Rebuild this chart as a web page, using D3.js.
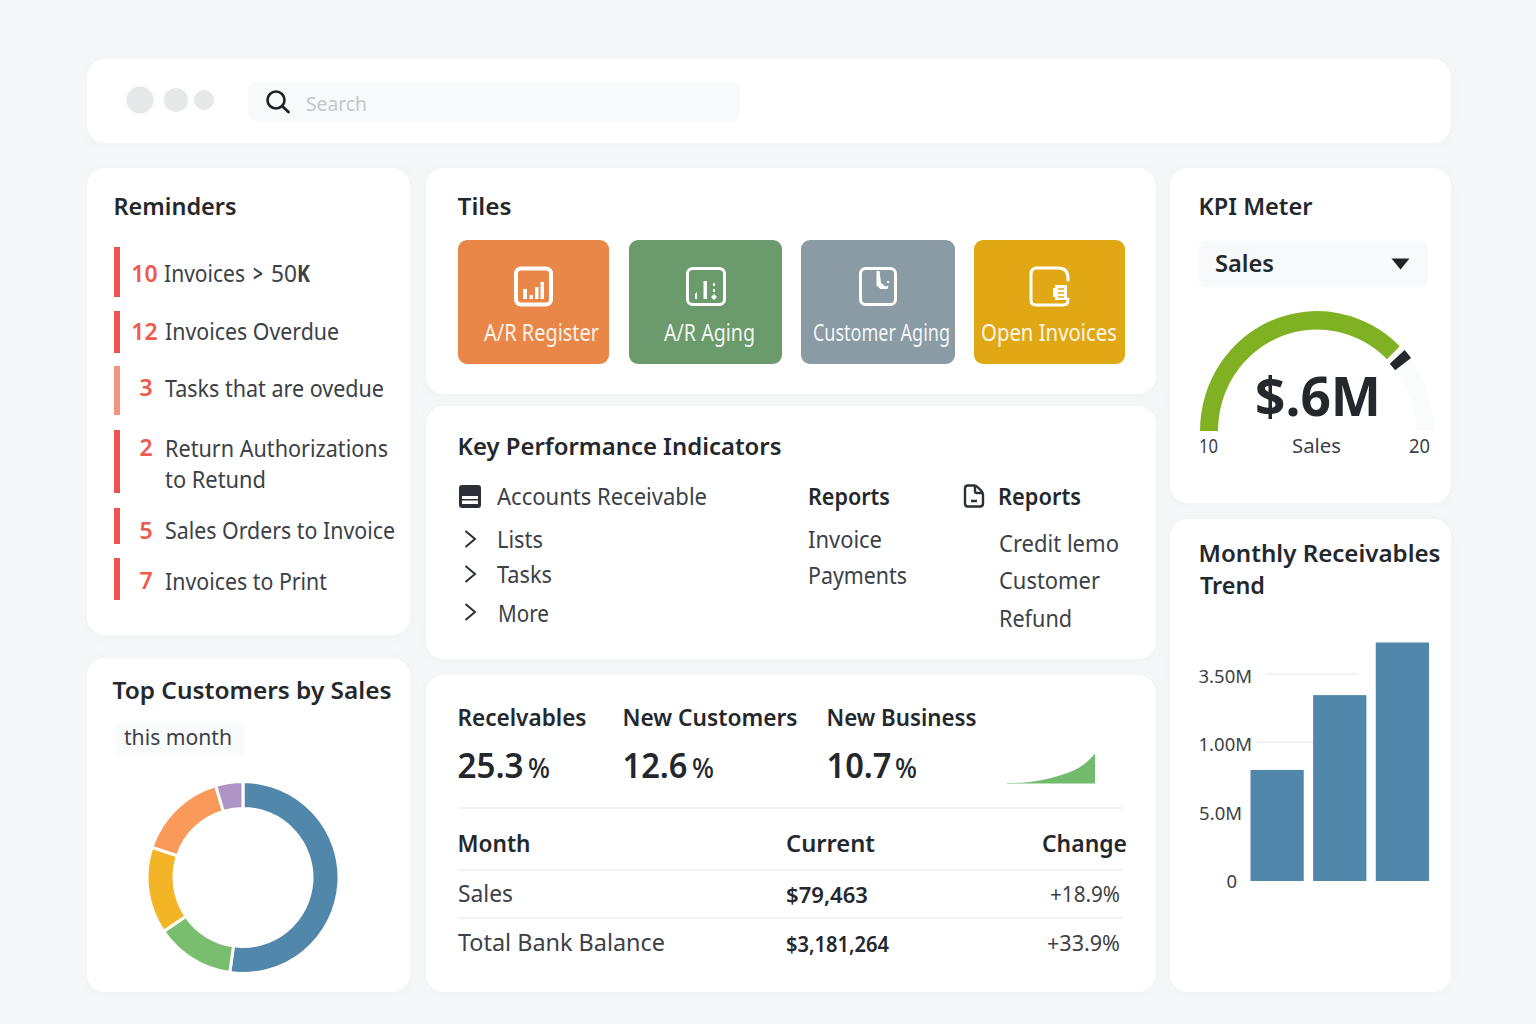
<!DOCTYPE html>
<html>
<head>
<meta charset="utf-8">
<script src="https://cdn.jsdelivr.net/npm/d3@7"></script>
<style>
    html, body { margin: 0; padding: 0; background: #f6f7f9; }
    svg { display: block; }
    text { font-family: "Noto Sans", "Open Sans", sans-serif; }
</style>
</head>
<body>
<div id="chart"></div>
<script>
"use strict";

// chart values
var reminderCounts = ["10", "12", "3", "2", "5", "7"];
var reminderLabels = ["Invoices", "Invoices Overdue", "Tasks that are ovedue", "Return Authorizations", "Sales Orders to Invoice", "Invoices to Print"];
var tileLabels = ["A/R Register", "A/R Aging", "Customer Aging", "Open Invoices"];
var kpiLinks = ["Lists", "Tasks", "More"];
var reportLinks = ["Invoice", "Payments"];
var reportLinks2 = ["Credit lemo", "Customer", "Refund"];
var statNames = ["Recelvables", "New Customers", "New Business"];
var statValues = [25.3, 12.6, 10.7];
var sparkValues = [0.5, 0.6, 1, 2, 3.5, 5.5, 8, 11, 15, 21, 30];
var tableRows = ["Sales", "Total Bank Balance"];
var tableCurrent = ["$79,463", "$3,181,264"];
var tableChange = ["+18.9%", "+33.9%"];
var donutNames = ["Customer A", "Customer B", "Customer C", "Customer D", "Customer E"];
var donutValues = [52.2, 13.3, 14.6, 15.3, 4.6];
var gaugeRange = [10, 20];
var gaugeValue = 17.5;
var gaugeMark = 17.8;
var barMonths = ["Month 1", "Month 2", "Month 3"];
var barValues = [1.625, 2.72, 3.49];
var barTicks = [0, 1, 2, 3];
var barTickLabels = ["0", "5.0M", "1.00M", "3.50M"];

// layout
var INK = "#24282d";
var TEXT = "#3c4146";
var panels = [
    [87, 59, 1364, 84], [87, 168, 323, 467], [87, 658, 323, 334],
    [426, 168, 730, 226], [426, 406, 730, 253], [426, 675, 730, 317],
    [1170, 168, 281, 335], [1170, 519, 281, 473]
];
var tileBoxes = [[458, 151], [629, 153], [801, 154], [974, 151]];
var tileColors = ["#e88747", "#6b9a6c", "#8a9ba5", "#e0a815"];

var svg = d3.select("#chart").append("svg")
    .attr("width", 1536)
    .attr("height", 1024);

var defs = svg.append("defs");
defs.append("filter").attr("id", "soft")
    .attr("x", "-5%").attr("y", "-5%").attr("width", "110%").attr("height", "110%")
    .append("feDropShadow")
    .attr("dx", 0).attr("dy", 1).attr("stdDeviation", 4)
    .attr("flood-color", "#8a94a0").attr("flood-opacity", 0.06);

svg.append("rect").attr("width", 1536).attr("height", 1024).attr("fill", "#f6f7f9");

svg.selectAll("rect.panel")
    .data(panels)
    .enter()
    .append("rect")
    .attr("class", "panel")
    .attr("x", function(d) { return d[0]; })
    .attr("y", function(d) { return d[1]; })
    .attr("width", function(d) { return d[2]; })
    .attr("height", function(d) { return d[3]; })
    .attr("rx", 18)
    .attr("fill", "#fff")
    .attr("filter", "url(#soft)");

// width is the span measured in the picture, so the text lands where it should
function label(str, x, y, size, width, o) {
    o = o || {};
    var t = svg.append("text")
        .attr("x", x)
        .attr("y", y)
        .attr("font-size", size)
        .attr("font-weight", o.weight || 400)
        .attr("fill", o.fill || TEXT)
        .attr("text-anchor", o.anchor || "start")
        .text(str);
    if (width) {
        t.attr("textLength", width).attr("lengthAdjust", "spacingAndGlyphs");
    }
    return t;
}

function title(str, x, y, width) {
    return label(str, x, y, 24, width, { weight: 600, fill: INK });
}

// top bar
[[140, 13.5], [176, 12], [204, 10]].forEach(function(d) {
    svg.append("circle").attr("cx", d[0]).attr("cy", 100).attr("r", d[1]).attr("fill", "#e6e8ea");
});
svg.append("rect").attr("x", 248).attr("y", 82).attr("width", 492).attr("height", 39).attr("rx", 8).attr("fill", "#f8f9fb");
svg.append("circle").attr("cx", 276).attr("cy", 100).attr("r", 8.5)
    .attr("fill", "none").attr("stroke", "#1f2327").attr("stroke-width", 2.6);
svg.append("line").attr("x1", 282).attr("y1", 106).attr("x2", 288.5).attr("y2", 112)
    .attr("stroke", "#1f2327").attr("stroke-width", 2.8).attr("stroke-linecap", "round");
label("Search", 306, 111, 20, 61, { fill: "#c3c7cb" });

// reminders
title("Reminders", 113.5, 215, 123);
var reminderBars = [[247, 50], [311, 42], [366, 49], [430, 63], [508, 36], [558, 42]];
var reminderCountY = [282, 340, 396, 456, 539, 589];
var reminderTextY = [282, 340, 397, 457, 539, 590];
var reminderWidths = [81, 174, 219, 223, 230, 162];
reminderLabels.forEach(function(d, i) {
    svg.append("rect")
        .attr("x", 114).attr("y", reminderBars[i][0])
        .attr("width", 6).attr("height", reminderBars[i][1])
        .attr("fill", i === 2 ? "#f4937f" : "#ef5350");
    label(reminderCounts[i], reminderCounts[i].length > 1 ? 144.5 : 146, reminderCountY[i], 23, null, { weight: 600, fill: "#ee5a4e", anchor: "middle" });
    label(d, i === 0 ? 164 : 165, reminderTextY[i], 23, reminderWidths[i]);
});
label(">", 253, 282, 23, 10, { weight: 600 });
label("50", 271, 282, 23, 26);
label("K", 297, 282, 23, 13, { weight: 700 });
label("to Retund", 165, 488, 23, 101);

// top customers donut
title("Top Customers by Sales", 112.5, 699, 279);
svg.append("rect").attr("x", 116).attr("y", 722).attr("width", 129).attr("height", 34).attr("rx", 4).attr("fill", "#f9fafb");
label("this month", 124, 745, 22, 108);

var donutColors = d3.scaleOrdinal()
    .domain(donutNames)
    .range(["#5187ab", "#78be6e", "#f3b426", "#f9995a", "#ae94c4"]);
var pie = d3.pie().sort(null).value(function(d, i) { return d; });
var donutArc = d3.arc().innerRadius(69).outerRadius(96);
svg.append("g")
    .attr("transform", "translate(243,877.5)")
    .selectAll("path")
    .data(pie(donutValues))
    .enter()
    .append("path")
    .attr("d", donutArc)
    .attr("fill", function(d, i) { return donutColors(donutNames[i]); })
    .attr("stroke", "#fff")
    .attr("stroke-width", 3);

// tiles
title("Tiles", 457.5, 215, 54);
var tileLabelSpan = [[484, 115], [664, 91], [813, 137], [981, 136]];
tileBoxes.forEach(function(d, i) {
    svg.append("rect").attr("x", d[0]).attr("y", 240).attr("width", d[1]).attr("height", 124).attr("rx", 9).attr("fill", tileColors[i]);
    label(tileLabels[i], tileLabelSpan[i][0], 341, 23, tileLabelSpan[i][1], { fill: "#fff" }).attr("fill-opacity", 0.93);
});

function tileIcon(x, w, weight) {
    svg.append("rect").attr("x", x).attr("y", 268.5).attr("width", w).attr("height", 36)
        .attr("rx", 5).attr("fill", "none").attr("stroke", "#fff").attr("stroke-width", weight);
}
function white(pathData) {
    svg.append("path").attr("d", pathData).attr("fill", "#fff");
}
tileIcon(516, 35, 4);
white("M523 289h4v10h-4zM529.5 295h3.5v4h-3.5zM535 287h3.5v12h-3.5zM540.5 282h3.5v17h-3.5z");
tileIcon(687.5, 37, 3);
white("M703.5 281h3.5v18h-3.5zM695 294l2 -2v7h-2zM713 283h2v3h-2zM713 289h2v3h-2zM714 294l3 3l-3 3l-3 -3z");
tileIcon(860.5, 35, 3);
white("M876.5 271h3l1.5 12l4.5 3.5l3 -1l-1 3.5h-7l-4 -3.500zM887 281h2v2h-2z");
svg.append("path")
    .attr("d", "M1037 268h21q10 0 10 10v2M1031 274v26q0 5 5 5h27q5 0 5 -5v-1M1031 274q0 -6 6 -6")
    .attr("fill", "none").attr("stroke", "#fff").attr("stroke-width", 3).attr("stroke-linecap", "round");
white("M1055 285h12v15h-12zM1053 288h2v9h-2z");
svg.append("path").attr("d", "M1058 289h6M1058 293h6M1058 297h6").attr("stroke", tileColors[3]).attr("stroke-width", 1.6);

// key performance indicators
title("Key Performance Indicators", 457.5, 455, 324);
label("Accounts Receivable", 497, 505, 23, 210);
label("Reports", 808, 505, 23, 82, { weight: 600, fill: INK });
label("Reports", 998, 505, 23, 83, { weight: 600, fill: INK });
svg.append("rect").attr("x", 459).attr("y", 485).attr("width", 22).attr("height", 23).attr("rx", 3).attr("fill", "#2b3036");
svg.append("rect").attr("x", 462).attr("y", 496).attr("width", 16).attr("height", 8).attr("fill", "#fff");
svg.append("rect").attr("x", 462).attr("y", 499).attr("width", 16).attr("height", 1.5).attr("fill", "#2b3036");
svg.append("path")
    .attr("d", "M968 485.500h6q2 0 3.500 1.500l4 4q1.500 1.500 1.500 3.500v9q0 3 -3 3h-12q-3 0 -3 -3v-15q0 -3 3 -3zM975 486v5q0 2 2 2h5.500M971 501h6")
    .attr("fill", "none").attr("stroke", "#2b3036").attr("stroke-width", 2.4).attr("stroke-linejoin", "round");

var kpiLinkX = [497, 497, 498];
var kpiLinkY = [548, 583, 622];
var kpiLinkW = [46, 55, 51];
var chevronY = [539, 574, 612];
kpiLinks.forEach(function(d, i) {
    label(d, kpiLinkX[i], kpiLinkY[i], 23, kpiLinkW[i]);
    svg.append("path")
        .attr("d", "M465.5 " + (chevronY[i] - 8) + "l9.5 8l-9.5 8")
        .attr("fill", "none").attr("stroke", "#2b3036").attr("stroke-width", 2);
});
var reportY = [548, 584];
var reportW = [74, 99];
reportLinks.forEach(function(d, i) { label(d, 808, reportY[i], 23, reportW[i]); });
var report2Y = [552, 589, 627];
var report2W = [120, 101, 73];
reportLinks2.forEach(function(d, i) { label(d, 999, report2Y[i], 23, report2W[i]); });

// stats row
var statX = [457.5, 622.5, 826.5];
var statW = [129, 175, 150];
var statNumW = [66, 65, 65];
var statPctX = [528, 692, 895];
statNames.forEach(function(d, i) {
    label(d, statX[i], 726, 23, statW[i], { weight: 600, fill: INK });
    label(statValues[i].toFixed(1), statX[i], 778, 35, statNumW[i], { weight: 600, fill: INK });
    label("%", statPctX[i], 778, 27, 22, { weight: 500, fill: INK });
});

var sparkX = d3.scaleLinear().domain([0, sparkValues.length - 1]).range([1007, 1095]);
var sparkY = d3.scaleLinear().domain([0, 30]).range([783.5, 753.5]);
var sparkArea = d3.area()
    .x(function(d, i) { return sparkX(i); })
    .y0(sparkY(0))
    .y1(function(d) { return sparkY(d); })
    .curve(d3.curveMonotoneX);
svg.append("path").attr("d", sparkArea(sparkValues)).attr("fill", "#72bb6c");

// month table
[808, 870, 918].forEach(function(y) {
    svg.append("line").attr("x1", 458).attr("x2", 1123).attr("y1", y).attr("y2", y)
        .attr("stroke", "#eceef0").attr("stroke-width", 1.5);
});
label("Month", 457.5, 852, 24, 73, { weight: 600, fill: INK });
label("Current", 786, 852, 24, 89, { weight: 600, fill: INK });
label("Change", 1042, 852, 24, 85, { weight: 600, fill: INK });
var rowY = [902, 951];
var rowW = [55, 207];
var currentW = [82, 103];
var changeX = [1050, 1047];
var changeW = [70, 73];
tableRows.forEach(function(d, i) {
    label(d, 458, rowY[i], 23, rowW[i]);
    label(tableCurrent[i], 786, rowY[i] + 1, 22, currentW[i], { weight: 600, fill: INK });
    label(tableChange[i], changeX[i], rowY[i], 22, changeW[i]);
});

// KPI meter
title("KPI Meter", 1198.5, 215, 114);
svg.append("rect").attr("x", 1199).attr("y", 241).attr("width", 229).attr("height", 46).attr("rx", 6).attr("fill", "#f8f9fa");
label("Sales", 1215, 272, 24, 59, { weight: 600, fill: INK });
svg.append("path").attr("d", "M1391.5 258.5h18l-9 11z").attr("fill", "#1f2327");

var gaugeAngle = d3.scaleLinear().domain(gaugeRange).range([-Math.PI / 2, Math.PI / 2]);
// the arc in the picture is a little taller than it is wide
var gauge = svg.append("g").attr("transform", "translate(1317,431) scale(1,1.025)");
var gaugeArc = d3.arc().innerRadius(99).outerRadius(117);
gauge.append("path")
    .attr("d", gaugeArc({ startAngle: gaugeAngle(gaugeValue), endAngle: gaugeAngle(gaugeRange[1]) }))
    .attr("fill", "#fafbfb");
gauge.append("path")
    .attr("d", gaugeArc({ startAngle: gaugeAngle(gaugeRange[0]), endAngle: gaugeAngle(gaugeValue) }))
    .attr("fill", "#7fb122");
gauge.append("path")
    .attr("d", d3.arc().innerRadius(98).outerRadius(118)({ startAngle: gaugeAngle(gaugeMark) - 0.043, endAngle: gaugeAngle(gaugeMark) + 0.043 }))
    .attr("fill", "#24282d");
label("$.6M", 1255, 416, 54, 126, { weight: 700, fill: INK });
label(String(gaugeRange[0]), 1199, 453, 20, 19);
label("Sales", 1292, 453, 20, 49);
label(String(gaugeRange[1]), 1409, 453, 20, 21);

// monthly receivables bars
title("Monthly Receivables", 1198.5, 562, 242);
title("Trend", 1200, 594, 65);

var barX = d3.scaleBand().domain(barMonths).range([1250.5, 1429]).paddingInner(0.15);
var barY = d3.scaleLinear().domain([0, 3]).range([881, 676]);

// faint grid, the spans stop short the same way they do in the picture
var gridSpans = { 2: [1256, 1314], 3: [1266, 1358] };
[2, 3].forEach(function(t) {
    svg.append("line")
        .attr("x1", gridSpans[t][0]).attr("x2", gridSpans[t][1])
        .attr("y1", barY(t) - 2).attr("y2", barY(t) - 2)
        .attr("stroke", "#eef0f2").attr("stroke-width", 1.5);
});

svg.selectAll("rect.bar")
    .data(barValues)
    .enter()
    .append("rect")
    .attr("class", "bar")
    .attr("x", function(d, i) { return barX(barMonths[i]); })
    .attr("y", function(d) { return barY(d); })
    .attr("width", barX.bandwidth())
    .attr("height", function(d) { return barY(0) - barY(d); })
    .attr("fill", "#5187ab");

var barAxis = d3.axisLeft(barY)
    .tickValues(barTicks)
    .tickSize(0)
    .tickPadding(0)
    .tickFormat(function(d, i) { return barTickLabels[i]; });
var tickShift = [15, 10, 0, 0];
var axisG = svg.append("g").attr("transform", "translate(1252,0)").call(barAxis);
axisG.select(".domain").remove();
axisG.selectAll("text")
    .attr("font-family", "\"Noto Sans\", sans-serif")
    .attr("font-size", 18.5)
    .attr("fill", TEXT)
    .attr("dx", function(d, i) { return -tickShift[i]; })
    .attr("dy", 6.5);
</script>
</body>
</html>
